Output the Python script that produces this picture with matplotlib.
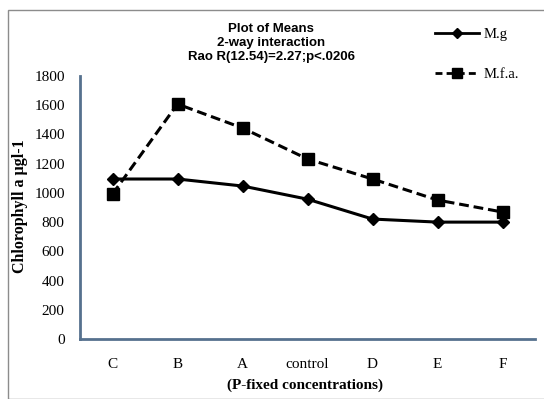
import matplotlib.pyplot as plt
from matplotlib.lines import Line2D
from matplotlib.patches import Rectangle

categories = ['C', 'B', 'A', 'control', 'D', 'E', 'F']
mg = [1095, 1095, 1047, 957, 821, 800, 800]
mfa = [992, 1608, 1444, 1232, 1095, 951, 869]
yticks = [0, 200, 400, 600, 800, 1000, 1200, 1400, 1600, 1800]

W, H = 544, 399
fig = plt.figure(figsize=(W / 100, H / 100), dpi=100)

# outer grey frame (runs off the right / bottom edge)
fig.patches.append(Rectangle((8 / W, 0), 1, 1 - 10 / H, transform=fig.transFigure,
                             fill=False, edgecolor='#8c8c8c', linewidth=1.0))

ax = fig.add_axes([80 / W, 1 - 339 / H, 455 / W, 263 / H])
x = [i + 0.5 for i in range(len(categories))]
ax.plot(x, mg, color='black', lw=2.2, marker='D', ms=6, label='M.g')
ax.plot(x, mfa, color='black', lw=2.2, ls=(0, (3.2, 1.6)), marker='s', ms=8,
        label='M.f.a.')

ax.set_xlim(0, len(categories))
ax.set_ylim(0, 1800)
ax.set_xticks(x)
ax.set_xticklabels(categories, family='Liberation Serif', fontsize=11)
ax.set_yticks(yticks)
ax.set_yticklabels([str(v) for v in yticks], family='Liberation Serif', fontsize=11)
ax.tick_params(axis='x', length=0, pad=14)
ax.tick_params(axis='y', length=0, pad=11)
for s in ['top', 'right']:
    ax.spines[s].set_visible(False)
for s in ['left', 'bottom']:
    ax.spines[s].set_color('#56718e')
    ax.spines[s].set_linewidth(2)

fig.text(20 / W, 1 - 206 / H, 'Chlorophyll a µgl-1', rotation=90, ha='center',
         va='center', family='Liberation Serif', fontweight='bold', fontsize=11.5)
fig.text(305 / W, 1 - 385 / H, '(P-fixed concentrations)', ha='center', va='center',
         family='Liberation Serif', fontweight='bold', fontsize=11)

for i, t in enumerate(['Plot of Means', '2-way interaction', 'Rao R(12.54)=2.27;p<.0206']):
    fig.text(271 / W, 1 - (29 + 14 * i) / H, t, ha='center', va='center',
             family='Liberation Sans', fontweight='bold', fontsize=9.5)

handles = [Line2D([], [], color='black', lw=2, marker='D', ms=5),
           Line2D([], [], color='black', lw=2, ls=(0, (2.5, 1.5)), marker='s', ms=7)]
fig.legend(handles, ['M.g', 'M.f.a.'], loc='upper left', bbox_to_anchor=(422 / W, 1 - 15 / H),
           frameon=False, handlelength=3.0, labelspacing=1.8,
           prop={'family': 'Liberation Serif', 'size': 10.5}, handletextpad=0.3)

fig.savefig('out.png', dpi=100)
